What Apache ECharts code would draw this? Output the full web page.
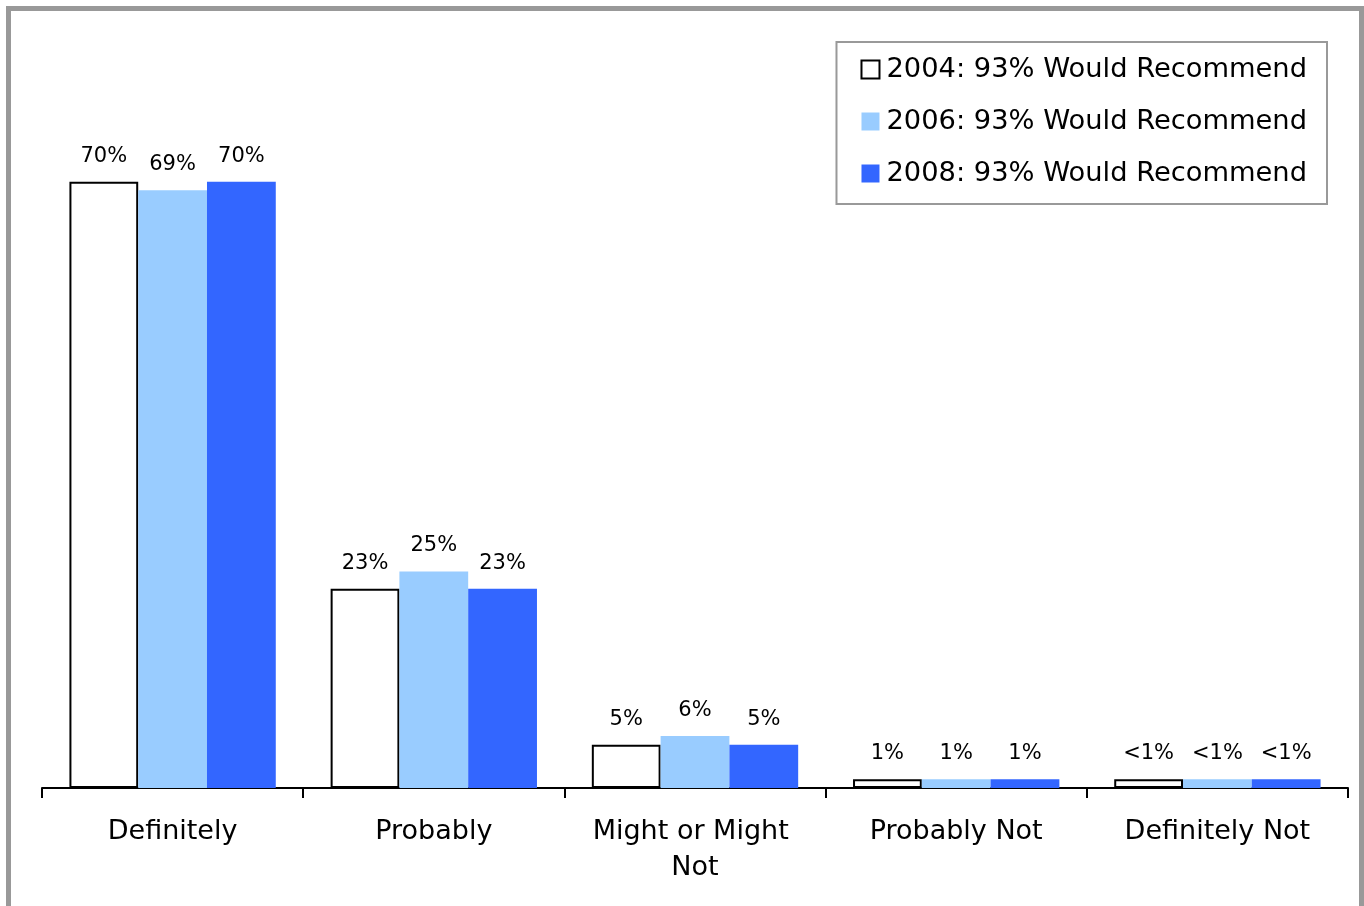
<!DOCTYPE html>
<html>
<head>
<meta charset="utf-8">
<script src="https://cdn.jsdelivr.net/npm/echarts@6/dist/echarts.min.js"></script>
<style>
  html, body { margin: 0; padding: 0; background: #fff; }
  #chart { width: 1364px; height: 906px; }
</style>
</head>
<body>
<div id="chart"></div>
<script>
const categories = ['Definitely', 'Probably', 'Might or Might Not', 'Probably Not', 'Definitely Not']
const seriesNames = ['2004: 93% Would Recommend', '2006: 93% Would Recommend', '2008: 93% Would Recommend']
const values2004 = [70, 23, 5, 1, 1]
const values2006 = [69, 25, 6, 1, 1]
const values2008 = [70, 23, 5, 1, 1]
const labels2004 = ['70%', '23%', '5%', '1%', '<1%']
const labels2006 = ['69%', '25%', '6%', '1%', '<1%']
const labels2008 = ['70%', '23%', '5%', '1%', '<1%']

const FONT = 'DejaVu Sans'

const chart = echarts.init(document.getElementById('chart'))

function barSeries (name, data, labels, itemStyle) {
  return {
    name,
    type: 'bar',
    data,
    barGap: 0,
    barCategoryGap: '21%',
    itemStyle,
    label: {
      show: true,
      position: 'top',
      distance: 15,
      fontFamily: FONT,
      fontSize: 21,
      color: '#000',
      formatter: p => labels[p.dataIndex]
    },
    animation: false
  }
}

chart.setOption({
  textStyle: { fontFamily: FONT },
  graphic: [{
    type: 'rect',
    shape: { x: 8.5, y: 8.5, width: 1353, height: 1000 },
    style: { fill: 'none', stroke: '#999', lineWidth: 5 },
    silent: true
  }],
  legend: {
    orient: 'vertical',
    right: 37,
    top: 42,
    padding: [14, 20, 17, 24],
    borderColor: '#999',
    borderWidth: 2,
    icon: 'rect',
    itemWidth: 18,
    itemHeight: 18,
    itemGap: 25,
    textStyle: { fontFamily: FONT, fontSize: 27.3, color: '#000', padding: [0, 0, 0, 2] },
    data: [
      { name: seriesNames[0], itemStyle: { color: '#fff', borderColor: '#000', borderWidth: 2 } },
      { name: seriesNames[1], itemStyle: { color: '#99CCFF', borderWidth: 0 } },
      { name: seriesNames[2], itemStyle: { color: '#3366FF', borderWidth: 0 } }
    ]
  },
  grid: { left: 42, right: 16, top: 95, bottom: 118 },
  xAxis: {
    type: 'category',
    data: categories,
    axisLine: { lineStyle: { color: '#000', width: 2 } },
    axisTick: { show: true, length: 10, lineStyle: { color: '#000', width: 2 } },
    axisLabel: {
      fontFamily: FONT,
      fontSize: 27,
      color: '#000',
      margin: 26,
      lineHeight: 36,
      width: 240,
      overflow: 'break',
      interval: 0
    }
  },
  yAxis: {
    type: 'value',
    min: 0,
    max: 80,
    show: false,
    splitLine: { show: false }
  },
  series: [
    barSeries(seriesNames[0], values2004, labels2004, { color: '#fff', borderColor: '#000', borderWidth: 2 }),
    barSeries(seriesNames[1], values2006, labels2006, { color: '#99CCFF' }),
    barSeries(seriesNames[2], values2008, labels2008, { color: '#3366FF' })
  ]
})
</script>
</body>
</html>
